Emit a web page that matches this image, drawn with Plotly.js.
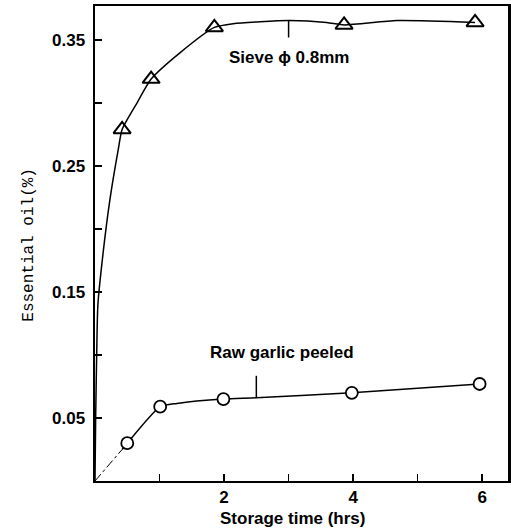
<!DOCTYPE html>
<html>
<head>
<meta charset="utf-8">
<script src="https://cdn.plot.ly/plotly-3.0.1.min.js"></script>
<style>html,body{margin:0;padding:0;background:#fff}#chart{width:511px;height:529px}</style>
</head>
<body>
<div id="chart"></div>
<script>
// Measured points
const hoursSieve = [0.42, 0.87, 1.85, 3.86, 5.89];
const oilSieve = [0.279, 0.319, 0.360, 0.362, 0.364];
const hoursRaw = [0.5, 1.01, 1.99, 3.98, 5.96];
const oilRaw = [0.030, 0.059, 0.065, 0.070, 0.077];

// Hand-drawn fitted curves
const sieveCurveX = [0, 0.01, 0.026, 0.045, 0.13, 0.23, 0.36, 0.42, 0.65, 0.87, 1.32, 1.85, 2.14, 3.0, 3.59, 3.86, 4.68, 5.89];
const sieveCurveY = [0, 0.05, 0.10, 0.14, 0.183, 0.223, 0.263, 0.279, 0.300, 0.319, 0.340, 0.360, 0.363, 0.3655, 0.364, 0.362, 0.3655, 0.364];
const rawStartX = [0, 0.42];
const rawStartY = [0, 0.025];
const rawCurveX = [0.42, 0.5, 1.01, 1.27, 1.99, 2.5, 3.98, 5.96];
const rawCurveY = [0.025, 0.030, 0.059, 0.0616, 0.065, 0.066, 0.070, 0.077];

// Leader lines for labels
const sieveLeaderX = [3.0, 3.0];
const sieveLeaderY = [0.3655, 0.352];
const rawLeaderX = [2.5, 2.5];
const rawLeaderY = [0.066, 0.0835];

// Labels
const sieveLabel = 'Sieve \u03d5 0.8mm';
const rawLabel = 'Raw garlic peeled';
const xTitle = 'Storage time (hrs)';
const yTitle = 'Essential oil(%)';
const xTickVals = [1, 2, 3, 4, 5, 6];
const xTickText = ['', '2', '', '4', '', '6'];
const yTickVals = [0.05, 0.10, 0.15, 0.20, 0.25, 0.30, 0.35];
const yTickText = ['0.05', '', '0.15', '', '0.25', '', '0.35'];

const lineStyle = {color: '#000', width: 1.5};
const traces = [
  {x: sieveCurveX, y: sieveCurveY, mode: 'lines', line: {color: '#000', width: 1.5, shape: 'spline', smoothing: 0.6}, hoverinfo: 'skip'},
  {x: rawStartX, y: rawStartY, mode: 'lines', line: {color: '#000', width: 1, dash: 'dashdot'}, hoverinfo: 'skip'},
  {x: rawCurveX, y: rawCurveY, mode: 'lines', line: {color: '#000', width: 1.5, shape: 'spline', smoothing: 0.6}, hoverinfo: 'skip'},
  {x: sieveLeaderX, y: sieveLeaderY, mode: 'lines', line: lineStyle, hoverinfo: 'skip'},
  {x: rawLeaderX, y: rawLeaderY, mode: 'lines', line: lineStyle, hoverinfo: 'skip'},
  {x: hoursSieve, y: oilSieve, mode: 'markers', marker: {symbol: 'triangle-up-open', size: 15, color: '#000', line: {width: 2, color: '#000'}}},
  {x: hoursRaw, y: oilRaw, mode: 'markers', marker: {symbol: 'circle', size: 12, color: '#fff', line: {width: 1.8, color: '#000'}}}
];

const boldFont = {family: 'Liberation Sans, Arial, sans-serif', size: 17, color: '#000', weight: 'bold'};

const layout = {
  width: 511, height: 529,
  margin: {l: 95, r: 3, t: 6, b: 48},
  paper_bgcolor: '#fff', plot_bgcolor: '#fff',
  showlegend: false,
  xaxis: {
    range: [0, 6.4], tickvals: xTickVals, ticktext: xTickText,
    ticks: 'inside', ticklen: 7, tickwidth: 1.5, tickcolor: '#000',
    showline: true, linecolor: '#000', linewidth: 2, mirror: true,
    showgrid: false, zeroline: false, tickfont: boldFont
  },
  yaxis: {
    range: [0, 0.377], tickvals: yTickVals, ticktext: yTickText,
    ticks: 'inside', ticklen: 7, tickwidth: 1.5, tickcolor: '#000',
    showline: true, linecolor: '#000', linewidth: 2.5, mirror: true,
    showgrid: false, zeroline: false, tickfont: boldFont, ticklabelstandoff: 4
  },
  annotations: [
    {text: sieveLabel, x: 3.0, y: 0.336, xref: 'x', yref: 'y', showarrow: false, font: boldFont},
    {text: rawLabel, x: 2.9, y: 0.102, xref: 'x', yref: 'y', showarrow: false, font: boldFont},
    {text: xTitle, x: 0.477, y: -0.078, xref: 'paper', yref: 'paper', showarrow: false, font: boldFont, yanchor: 'middle'},
    {text: yTitle, x: -0.187, y: 0.497, xref: 'paper', yref: 'paper', showarrow: false, textangle: -90,
     font: {family: 'Liberation Mono, Courier New, monospace', size: 16, color: '#000'}}
  ]
};

Plotly.newPlot('chart', traces, layout, {displayModeBar: false, staticPlot: true});
</script>
</body>
</html>
